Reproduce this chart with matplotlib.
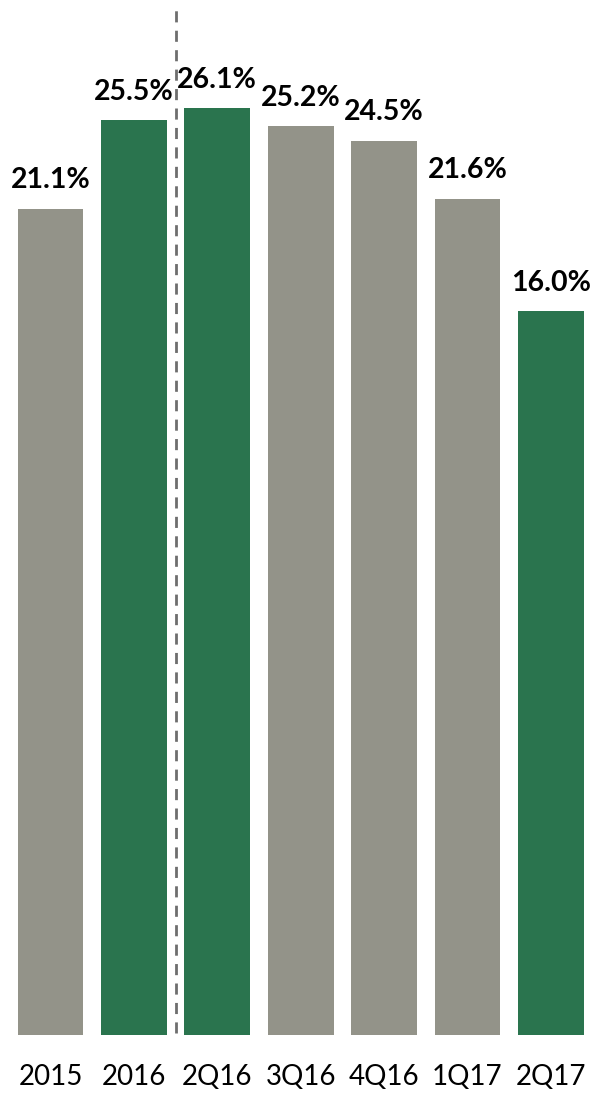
import matplotlib
matplotlib.use("Agg")
import matplotlib.pyplot as plt

categories = ["2015", "2016", "2Q16", "3Q16", "4Q16", "1Q17", "2Q17"]
values = [21.1, 25.5, 26.1, 25.2, 24.5, 21.6, 16.0]
labels = ["21.1%", "25.5%", "26.1%", "25.2%", "24.5%", "21.6%", "16.0%"]
highlight = [False, True, True, False, False, False, True]

GRAY = "#939389"
GREEN = "#2a744e"
BASE = -20.0

fig = plt.figure(figsize=(5.94, 10.95), dpi=100)
ax = fig.add_axes([0, 60 / 1095, 1, 1035 / 1095])

x = list(range(len(categories)))
colors = [GREEN if h else GRAY for h in highlight]
heights = [v - BASE for v in values]
ax.bar(x, heights, bottom=BASE, width=0.79, color=colors, edgecolor="none")

for xi, v, lab in zip(x, values, labels):
    ax.annotate(lab, (xi, v), xytext=(0, 15), textcoords="offset points",
                ha="center", va="baseline", fontsize=20.5, fontweight="bold",
                family=["Lato", "DejaVu Sans"], color="#000000")

ax.axvline(1.5, ymin=0.002, ymax=0.994, color="#6e6e6e", linewidth=2,
           linestyle=(0, (4, 3)))

ax.set_xlim(-50.5 / 83.4, (594 - 50.5) / 83.4)
ax.set_ylim(BASE, BASE + 1035 / 20.1)

ax.set_xticks(x)
ax.set_xticklabels(categories, fontsize=20, family=["Lato", "DejaVu Sans"], color="#000000")
ax.tick_params(axis="x", length=0, pad=21)
ax.set_yticks([])
for s in ax.spines.values():
    s.set_visible(False)

fig.savefig("out.png", dpi=100)
